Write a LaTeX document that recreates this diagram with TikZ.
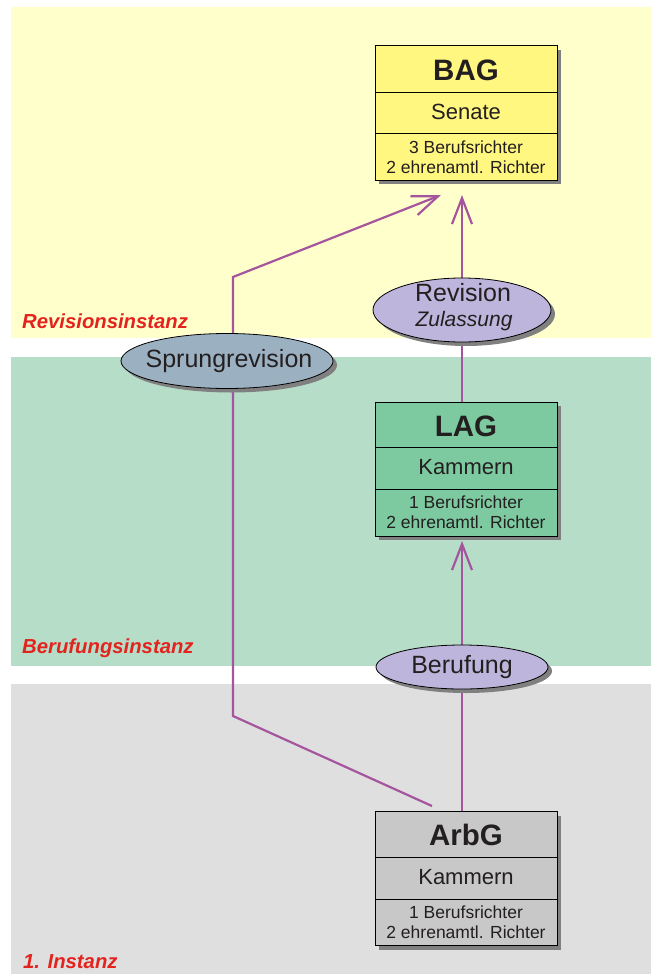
\documentclass[tikz,border=0pt]{standalone}
\usepackage{fontspec}
\setmainfont{Liberation Sans}
\usetikzlibrary{arrows.meta,shadows,shapes.geometric}
\definecolor{bandY}{HTML}{FFFFCC}
\definecolor{bandG}{HTML}{B6DDC8}
\definecolor{bandA}{HTML}{DFDFDF}
\definecolor{fillBAG}{HTML}{FFF77F}
\definecolor{fillLAG}{HTML}{7DC9A0}
\definecolor{fillArbG}{HTML}{C8C8C8}
\definecolor{fillEll}{HTML}{BDB5DB}
\definecolor{fillSpr}{HTML}{9BB1C1}
\definecolor{lineC}{HTML}{A5559E}
\definecolor{redC}{HTML}{E3231E}
\definecolor{shadowC}{HTML}{808080}
\definecolor{txtC}{HTML}{231F20}
\pgfdeclarelayer{bands}
\pgfdeclarelayer{lines}
\pgfsetlayers{bands,lines,main}
\tikzset{
  shd/.style={drop shadow={shadow xshift=4pt, shadow yshift=-4pt, fill=shadowC, opacity=1}},
  court/.style={draw=black, line width=1pt, minimum width=182pt, minimum height=134pt, inner sep=0pt, shd},
  oval/.style={ellipse, draw=black, line width=0.8pt, inner sep=0pt, shd},
  ttl/.style={text=txtC, font=\fontsize{29.5}{33}\selectfont\bfseries, inner sep=0pt},
  mid/.style={text=txtC, font=\fontsize{22}{25}\selectfont, inner sep=0pt},
  small/.style={text=txtC, font=\fontsize{17.5}{20}\selectfont, align=center, inner sep=0pt},
  ovtxt/.style={text=txtC, font=\fontsize{25}{28}\selectfont, inner sep=0pt},
  lvl/.style={text=redC, font=\fontsize{20.3}{23}\selectfont\bfseries\itshape, anchor=west, inner sep=0pt},
  conn/.style={draw=lineC, line width=2.2pt},
  arr/.style={conn, -{Straight Barb[length=26pt, width=20pt, line width=2.2pt]}},
  divider/.style={draw=black, line width=1pt}
}
\begin{document}
\begin{tikzpicture}[x=1pt, y=-1pt]
\useasboundingbox (0,0) rectangle (651,974);
\begin{pgfonlayer}{bands}
  \fill[bandY] (11,7) rectangle (651,338);
  \fill[bandG] (11,357) rectangle (651,666);
  \fill[bandA] (11,684) rectangle (651,974);
\end{pgfonlayer}
% level labels
\node[lvl] (l1) at (22,321) {Revisionsinstanz};
\node[lvl] (l2) at (22,648) {Berufungsinstanz};
\node[lvl] (l3) at (23,962) {1. Instanz};
% courts
\node[court, fill=fillBAG] (bag) at (466,113) {};
\draw[divider] (bag.west |- 0,92) -- (bag.east |- 0,92);
\draw[divider] (bag.west |- 0,133) -- (bag.east |- 0,133);
\node[ttl] (bagt) at (466,70) {BAG};
\node[mid] (bagm) at (466,112) {Senate};
\node[small] (bagb) at (466,157) {3 Berufsrichter\\2 ehrenamtl. Richter};

\node[court, fill=fillLAG] (lag) at (466,469) {};
\draw[divider] (lag.west |- 0,447) -- (lag.east |- 0,447);
\draw[divider] (lag.west |- 0,489) -- (lag.east |- 0,489);
\node[ttl] (lagt) at (466,426) {LAG};
\node[mid] (lagm) at (466,467) {Kammern};
\node[small] (lagb) at (466,512) {1 Berufsrichter\\2 ehrenamtl. Richter};

\node[court, fill=fillArbG] (arbg) at (466,878.5) {};
\draw[divider] (arbg.west |- 0,857) -- (arbg.east |- 0,857);
\draw[divider] (arbg.west |- 0,899) -- (arbg.east |- 0,899);
\node[ttl] (arbgt) at (466,835) {ArbG};
\node[mid] (arbgm) at (466,877) {Kammern};
\node[small] (arbgb) at (466,922) {1 Berufsrichter\\2 ehrenamtl. Richter};
% ovals
\node[oval, fill=fillEll, minimum width=178pt, minimum height=64pt] (rev) at (462,310) {};
\node[ovtxt] (revt) at (463,293) {Revision};
\node[text=txtC, font=\fontsize{21}{24}\selectfont\itshape, inner sep=0pt] (revz) at (464,321) {Zulassung};

\node[oval, fill=fillSpr, minimum width=212pt, minimum height=55pt] (spr) at (227,361) {};
\node[ovtxt] (sprt) at (229,361) {Sprungrevision};

\node[oval, fill=fillEll, minimum width=172pt, minimum height=44pt] (ber) at (462,667) {};
\node[ovtxt] (bert) at (462,667) {Berufung};
% connectors
\coordinate (bagtip) at (462,195);
\coordinate (lagtip) at (462,541);
\coordinate (sprtip) at (441,195);
\coordinate (c1) at (233,277);
\coordinate (c2) at (233,716);
\coordinate (c3) at (432,806);
\begin{pgfonlayer}{lines}
  \draw[arr] (rev.center) -- (bagtip);
  \draw[conn] (rev.center) -- (rev.center |- lag.north);
  \draw[arr] (ber.center) -- (lagtip);
  \draw[conn] (ber.center) -- (ber.center |- arbg.north);
  \draw[arr] (c1 |- spr.center) -- (c1) -- (sprtip);
  \draw[conn] (c1 |- spr.center) -- (c2) -- (c3);
\end{pgfonlayer}
\end{tikzpicture}
\end{document}
